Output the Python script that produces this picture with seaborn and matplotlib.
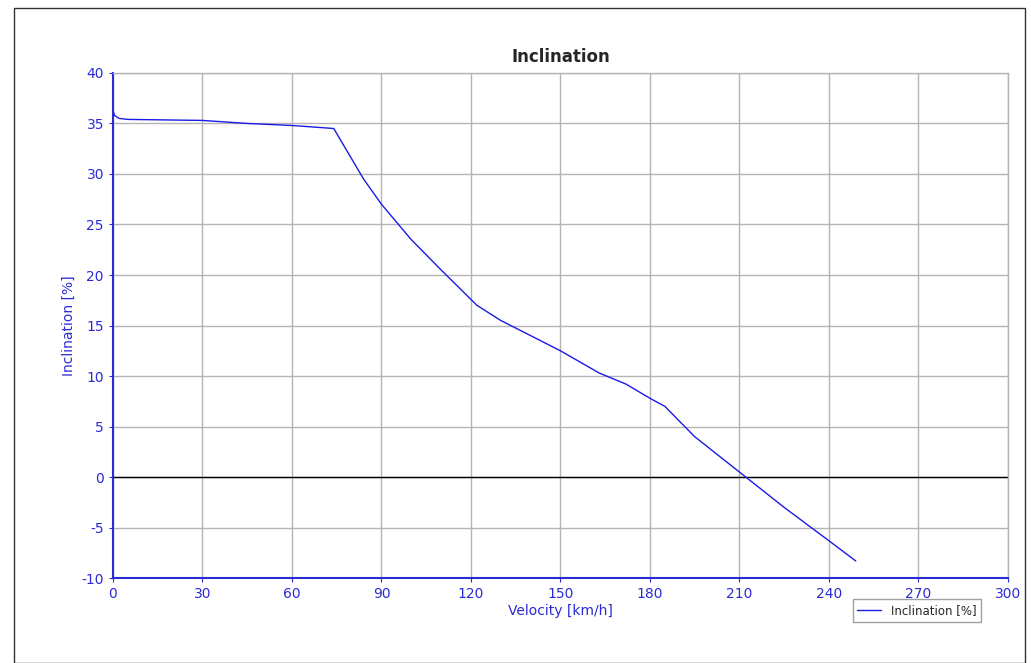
import matplotlib
matplotlib.use("Agg")
import matplotlib.pyplot as plt
import seaborn as sns
import pandas as pd

velocity = [0, 0.5, 2, 5, 30, 45, 60, 74, 79, 84, 90, 100, 110, 122, 130, 140, 150, 163, 172, 180, 185, 195, 210, 225, 240, 249]
inclination = [36.3, 35.8, 35.5, 35.4, 35.3, 35.0, 34.8, 34.5, 32.0, 29.5, 27.0, 23.5, 20.5, 17.0, 15.5, 14.0, 12.5, 10.3, 9.2, 7.8, 7.0, 4.0, 0.5, -3.0, -6.3, -8.3]
xticks = list(range(0, 301, 30))
yticks = list(range(-10, 41, 5))

sns.set_style("white")
plt.rcParams['font.family'] = ['DejaVu Sans']
plt.rcParams['axes.unicode_minus'] = False
blue = "#2b2bd6"
df = pd.DataFrame({"v": velocity, "i": inclination})
fig = plt.figure(figsize=(10.31, 6.63), dpi=100)
ax = fig.add_axes([0.1096, 0.128, 0.868, 0.762])
ax.grid(True, color="#b4b4b4", lw=1)
ax.axhline(0, color="black", lw=1)
sns.lineplot(data=df, x="v", y="i", ax=ax, color="#1a1ae6", lw=1, label="Inclination [%]")
ax.set_xlim(0, 300); ax.set_ylim(-10, 40)
ax.set_xticks(xticks); ax.set_yticks(yticks)
ax.tick_params(colors=blue, labelsize=10, length=3, direction="out")
ax.tick_params(axis="both", which="both", left=True, bottom=True)
for s in ["left", "bottom"]:
    ax.spines[s].set_color(blue); ax.spines[s].set_linewidth(1.5)
for s in ["top", "right"]:
    ax.spines[s].set_color("#b4b4b4"); ax.spines[s].set_linewidth(1)
ax.set_xlabel("Velocity [km/h]", color=blue, fontsize=10, labelpad=2)
ax.set_ylabel("Inclination [%]", color=blue, fontsize=10)
ax.set_title("Inclination", fontsize=12, fontweight="bold", pad=8)
leg = ax.legend(loc="upper left", bbox_to_anchor=(0.82, -0.03), fontsize=8.5, frameon=True, fancybox=False, edgecolor="#888888")
fig.add_artist(plt.Rectangle((0.014, 0.0), 0.98, 0.988, transform=fig.transFigure, fill=False, edgecolor="#333333", lw=1))
fig.savefig("out.png", dpi=100)
